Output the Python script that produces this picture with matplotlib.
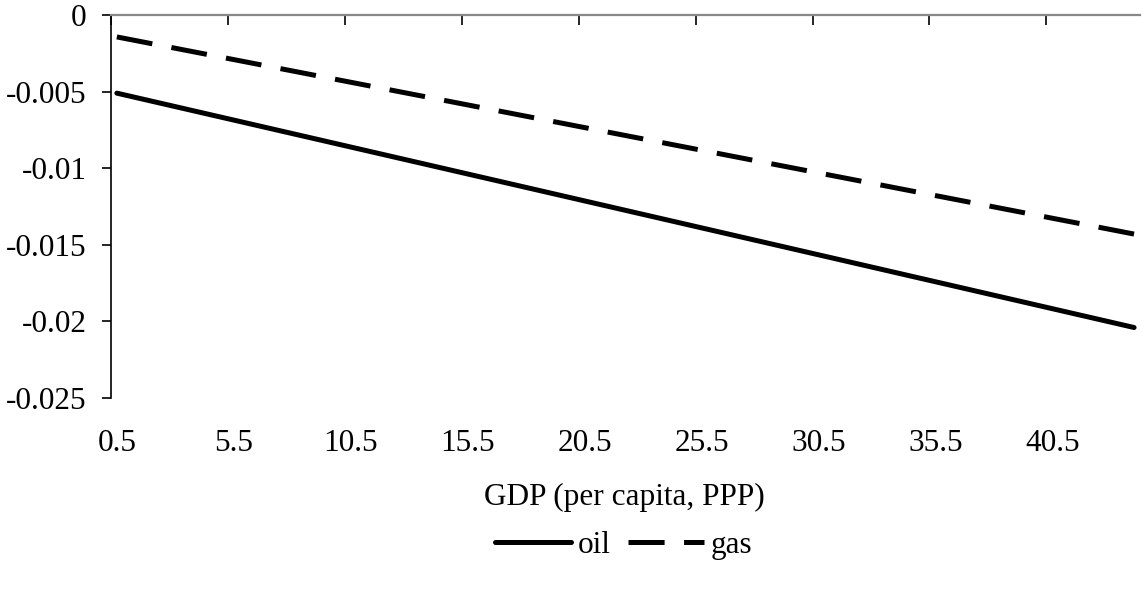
import matplotlib
matplotlib.use("Agg")
import matplotlib.pyplot as plt

plt.rcParams["font.family"] = ["Liberation Serif", "DejaVu Serif"]
plt.rcParams["lines.scale_dashes"] = False

# GDP per capita range shown (categories 0.5 ... 44.0) and line end values
gdp = [0.5, 44.0]
oil = [-0.0051, -0.0204]
gas = [-0.00143, -0.0143]

x_ticks = [0.25 + 5 * i for i in range(9)]
x_labels = ["0.5", "5.5", "10.5", "15.5", "20.5", "25.5", "30.5", "35.5", "40.5"]
label_pos = [0.5 + 5 * i for i in range(9)]
y_ticks = [0, -0.005, -0.01, -0.015, -0.02, -0.025]
y_labels = ["0", "-0.005", "-0.01", "-0.015", "-0.02", "-0.025"]

fs = 22.5

fig = plt.figure(figsize=(11.42, 5.89), dpi=100)
ax = fig.add_axes([0.0972, 0.3243, 0.9010, 0.6502])

ax.plot(gdp, oil, color="black", lw=3.6, solid_capstyle="round", label="oil")
ax.plot(gdp, gas, color="black", lw=3.6, dashes=(26, 14), dash_capstyle="butt", label="gas")

ax.set_xlim(0.25, 44.25)
ax.set_ylim(-0.025, 0)

# category axis sits at y = 0 (top), labels placed low
ax.set_xticks(x_ticks)
ax.set_xticklabels([])
ax.set_xticks(label_pos, minor=True)
ax.set_xticklabels(x_labels, minor=True, fontsize=fs)
ax.tick_params(axis="x", which="major", top=True, bottom=False, labeltop=False,
               labelbottom=False, direction="in", length=7.5, width=1.2, color="black")
ax.tick_params(axis="x", which="minor", top=False, bottom=True, labelbottom=True,
               length=0, pad=22)

ax.set_yticks(y_ticks)
ax.set_yticklabels(y_labels, fontsize=fs)
ax.tick_params(axis="y", direction="out", length=6.5, width=1.2, pad=11)

ax.spines["right"].set_visible(False)
ax.spines["bottom"].set_visible(False)
ax.spines["top"].set_color("#888888")
ax.spines["top"].set_linewidth(1.6)
ax.spines["left"].set_linewidth(1.2)

fig.text(0.547, 0.156, "GDP (per capita, PPP)", fontsize=fs, ha="center", va="center")

fig.legend(loc="center", bbox_to_anchor=(0.546, 0.0747), ncol=2, frameon=False,
           fontsize=fs, handlelength=2.45, handletextpad=0.2, columnspacing=0.55)

fig.savefig("out.png", dpi=100)
